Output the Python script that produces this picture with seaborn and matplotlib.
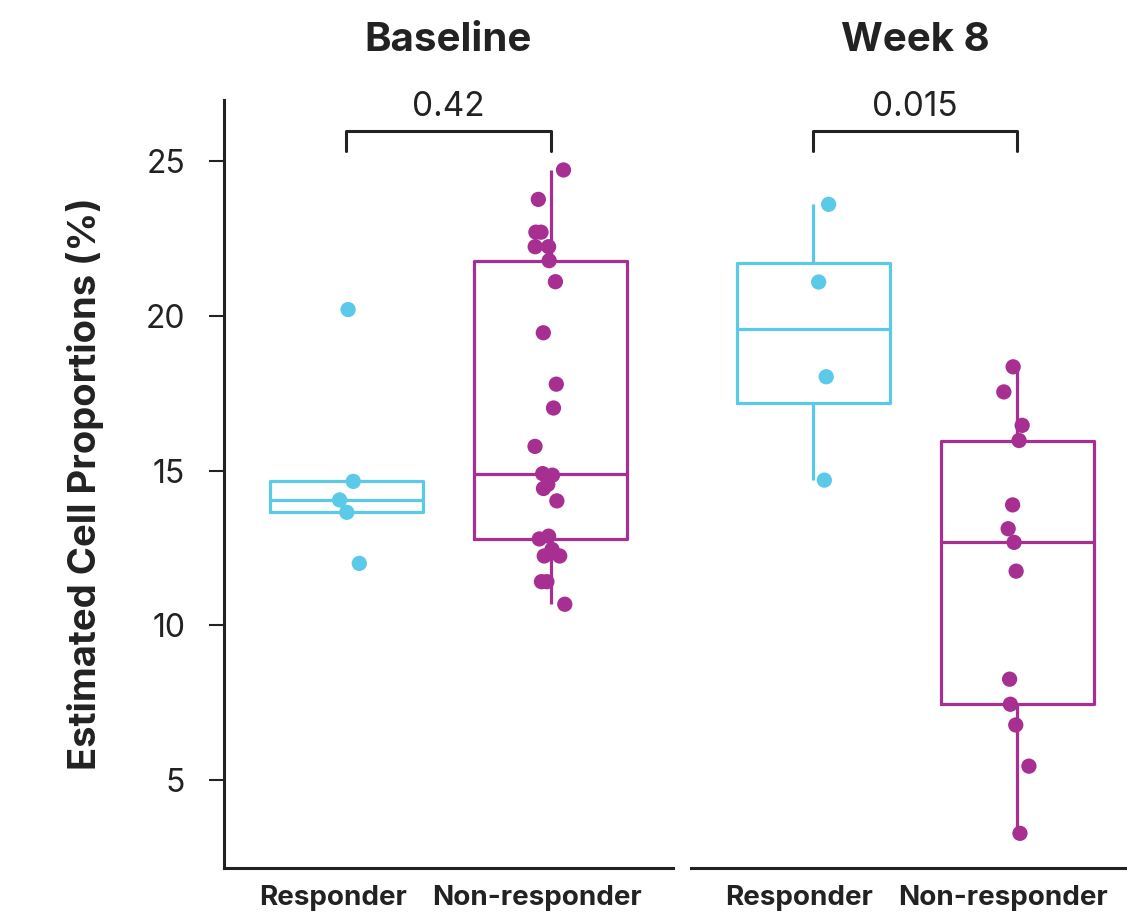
import pandas as pd
import numpy as np
import matplotlib.pyplot as plt
import matplotlib.transforms as mtransforms
import seaborn as sns

# values (Estimated Cell Proportions, %)
groups = ["Responder", "Non-responder"]
timepoints = ["Baseline", "Week 8"]

baseline_responder = [20.2, 14.65, 14.05, 13.65, 12.0]
baseline_nonresponder = [24.71, 23.76, 22.70, 22.70, 22.23, 22.23, 21.78, 21.10,
                         19.45, 17.79, 17.02, 15.78, 14.85, 14.90, 14.55, 14.42,
                         14.02, 12.88, 12.79, 12.45, 12.24, 12.24, 11.41, 11.41,
                         10.68]
week8_responder = [23.60, 21.09, 18.03, 14.69]
week8_nonresponder = [18.35, 17.54, 16.46, 15.97, 13.89, 13.12, 12.68, 11.75,
                      8.26, 7.45, 6.78, 5.45, 3.28]
p_values = ["0.42", "0.015"]

colors = {"Responder": "#5BC9E8", "Non-responder": "#A72F92"}

rows = []
for tp, grp, vals in [("Baseline", "Responder", baseline_responder),
                      ("Baseline", "Non-responder", baseline_nonresponder),
                      ("Week 8", "Responder", week8_responder),
                      ("Week 8", "Non-responder", week8_nonresponder)]:
    for v in vals:
        rows.append({"timepoint": tp, "group": grp, "value": v})
df = pd.DataFrame(rows)

sns.set_style("white")
plt.rcParams['font.family'] = ['Inter', 'DejaVu Sans']
ink = "#222222"

fig = plt.figure(figsize=(11.27, 9.16), dpi=100)
W, H = 1127, 916
ax_w = 449 / W
ax_b = 48 / H
ax_h = 768 / H
axes = [fig.add_axes([224 / W, ax_b, ax_w, ax_h]),
        fig.add_axes([690.6 / W, ax_b, ax_w, ax_h])]

np.random.seed(3)
shift = mtransforms.ScaledTranslation(-10 / 72, 0, fig.dpi_scale_trans)
for ax, tp, pv in zip(axes, timepoints, p_values):
    sub = df[df.timepoint == tp]
    sns.boxplot(data=sub, x="group", y="value", hue="group", order=groups,
                hue_order=groups, palette=colors, fill=False, width=0.75,
                showfliers=False, showcaps=False, linewidth=2.3, legend=False,
                ax=ax)
    sns.stripplot(data=sub, x="group", y="value", hue="group", order=groups,
                  hue_order=groups, palette=colors, jitter=0.08, size=11,
                  linewidth=0, legend=False, zorder=3, ax=ax)

    ax.set_xlim(-0.6, 1.6)
    ax.set_ylim(2.16, 26.97)
    ax.set_xlabel("")
    ax.set_title(tp, fontsize=29, fontweight="bold", color=ink, pad=35)
    ax.tick_params(axis="x", length=0, pad=12, labelsize=20, colors=ink)
    for lbl in ax.get_xticklabels():
        lbl.set_fontweight("bold")
        lbl.set_transform(lbl.get_transform() + shift)

    # significance bracket
    yb, tick = 25.97, 0.65
    ax.plot([0, 0, 1, 1], [yb - tick, yb, yb, yb - tick], color=ink, lw=2.2,
            clip_on=False)
    ax.text(0.5, yb + 0.25, pv, ha="center", va="bottom", fontsize=24,
            color=ink)

    for s in ["top", "right"]:
        ax.spines[s].set_visible(False)
    for s in ["left", "bottom"]:
        ax.spines[s].set_color(ink)
        ax.spines[s].set_linewidth(2.2)

left, right = axes
left.set_yticks([5, 10, 15, 20, 25])
left.tick_params(axis="y", length=11, width=1.5, pad=17, labelsize=23,
                 colors=ink, left=True)
left.set_ylabel("Estimated Cell Proportions (%)", fontsize=27.5,
                fontweight="bold", color=ink, labelpad=30)

right.spines["left"].set_visible(False)
right.set_yticks([])
right.set_ylabel("")

fig.savefig("out.png", dpi=100)
